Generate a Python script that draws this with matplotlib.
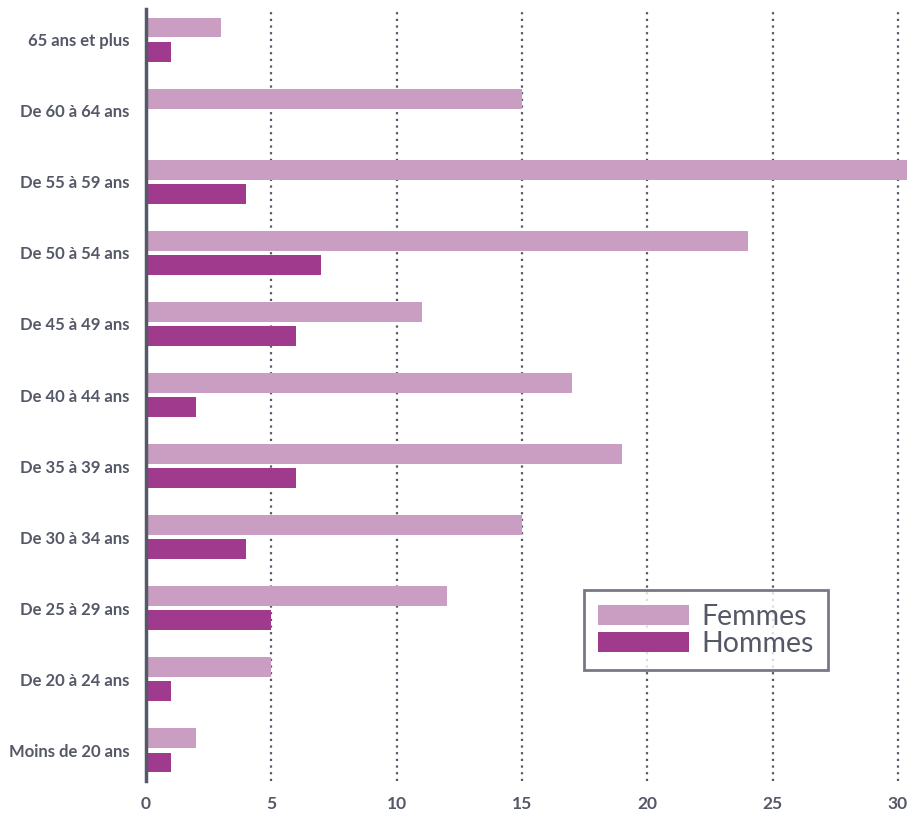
import matplotlib
matplotlib.use("Agg")
import matplotlib.pyplot as plt
import numpy as np

# tranches d'age, du haut vers le bas
categories = ["65 ans et plus", "De 60 à 64 ans", "De 55 à 59 ans", "De 50 à 54 ans",
              "De 45 à 49 ans", "De 40 à 44 ans", "De 35 à 39 ans", "De 30 à 34 ans",
              "De 25 à 29 ans", "De 20 à 24 ans", "Moins de 20 ans"]
femmes = [3, 15, 31, 24, 11, 17, 19, 15, 12, 5, 2]
hommes = [1, 0, 4, 7, 6, 2, 6, 4, 5, 1, 1]
xticks = [0, 5, 10, 15, 20, 25, 30]

col_f = "#ca9dc2"
col_h = "#a03a8d"
txt = "#545867"

plt.rcParams["font.family"] = ["Lato", "DejaVu Sans"]

fig = plt.figure(figsize=(9.07, 8.13), dpi=100)
ax = fig.add_axes([146 / 907, 32 / 813, 1 - 146 / 907, 772 / 813])

y = np.arange(len(categories))
h = 0.28
ax.barh(y - 0.17, femmes, height=h, color=col_f, label="Femmes", zorder=3)
ax.barh(y + 0.17, hommes, height=h, color=col_h, label="Hommes", zorder=3)

ax.set_xlim(0, 30.36)
ax.set_ylim(10.43, -0.43)
ax.set_yticks(y)
ax.set_yticklabels(categories, fontsize=12, fontweight="bold", color=txt)
ax.set_xticks(xticks)
ax.set_xticklabels([str(v) for v in xticks], fontsize=12.5, fontweight="bold", color=txt)
ax.tick_params(axis="both", length=0)
ax.tick_params(axis="y", pad=12)
ax.tick_params(axis="x", pad=11)

for v in xticks[1:]:
    ax.axvline(v, color=txt, linestyle=(0, (1, 2.0)), linewidth=1.6, zorder=1)

for s in ["top", "right", "bottom"]:
    ax.spines[s].set_visible(False)
ax.spines["left"].set_color(txt)
ax.spines["left"].set_linewidth(2.5)
ax.spines["left"].set_zorder(4)

leg = ax.legend(loc="upper left", bbox_to_anchor=(584 / 907, 1 - 590 / 813),
                bbox_transform=fig.transFigure, borderaxespad=0, fontsize=20.5,
                frameon=True, fancybox=False, handlelength=3.2, handleheight=0.7,
                handletextpad=0.45, labelspacing=0.03, borderpad=0.48)
leg.get_frame().set_edgecolor(txt)
leg.get_frame().set_linewidth(2)
for t in leg.get_texts():
    t.set_color(txt)

fig.savefig("out.png", dpi=100)
